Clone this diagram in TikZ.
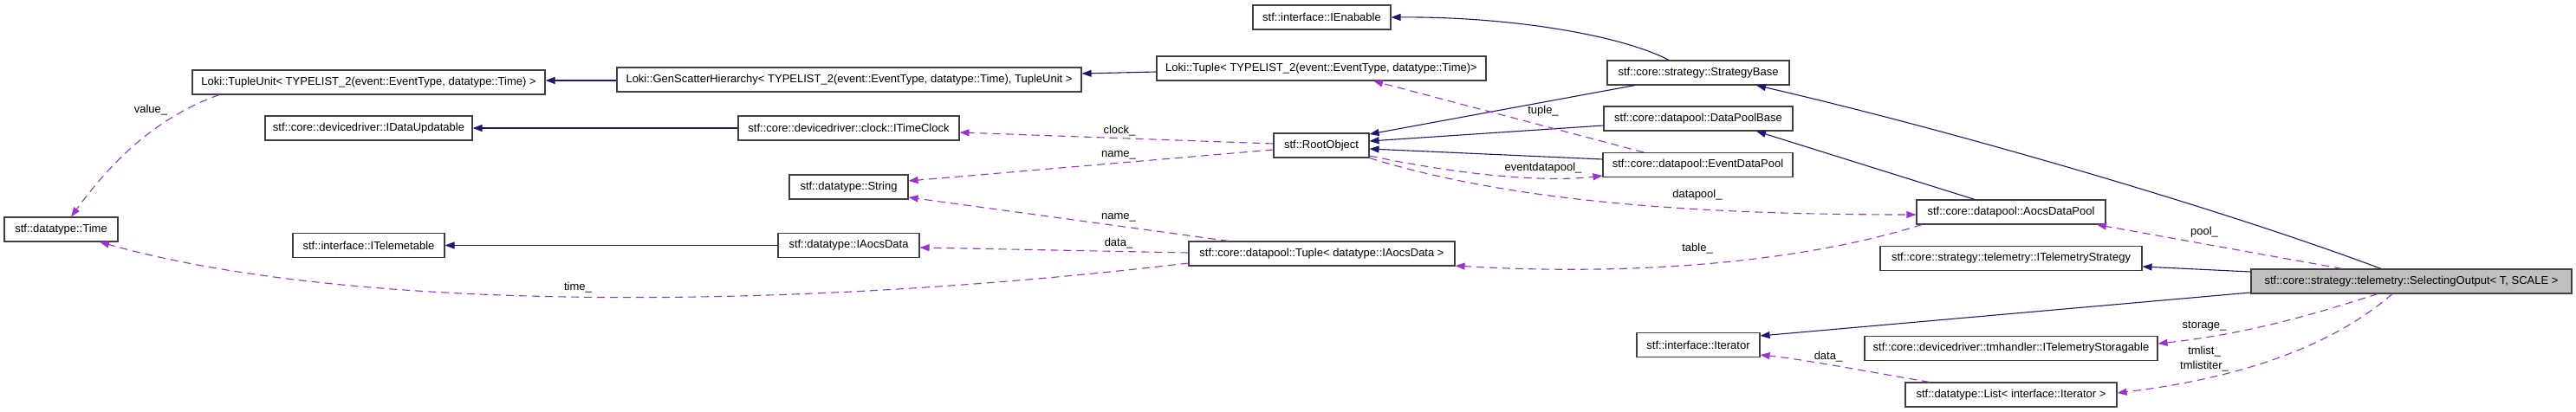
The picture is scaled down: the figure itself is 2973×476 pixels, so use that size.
\documentclass[tikz,border=0pt]{standalone}
\usepackage{fontspec}
\setmainfont{Liberation Sans}
\usetikzlibrary{arrows.meta}
\definecolor{inhcol}{HTML}{191970}
\definecolor{usecol}{HTML}{9A32CD}
\definecolor{boxline}{HTML}{404040}
\definecolor{mainfill}{HTML}{BFBFBF}
\tikzset{
  cls/.style={draw=boxline, line width=1.1pt, fill=white, inner sep=0pt, minimum height=28pt, font=\fontsize{13pt}{15pt}\selectfont},
  mainbox/.style={cls, fill=mainfill},
  inh/.style={draw=inhcol, line width=1.1pt, -{Triangle[length=11pt,width=8pt]}},
  use/.style={draw=usecol, line width=1.1pt, dash pattern=on 9pt off 6pt, -{Triangle[length=11pt,width=8pt]}},
  lbl/.style={inner sep=0pt, font=\fontsize{13pt}{17pt}\selectfont, align=center}
}
\begin{document}
\begin{tikzpicture}[x=1pt,y=-1pt]
\useasboundingbox (0,0) rectangle (2973,476);
% nodes
\node[cls, minimum width=131pt] (time) at (70.5,265) {stf::datatype::Time};
\node[cls, minimum width=407pt] (tu) at (425.5,95) {Loki::TupleUnit< TYPELIST\_2(event::EventType, datatype::Time) >};
\node[cls, minimum width=239pt] (upd) at (425.5,148) {stf::core::devicedriver::IDataUpdatable};
\node[cls, minimum width=175pt] (telem) at (425.5,283.5) {stf::interface::ITelemetable};
\node[cls, minimum width=536pt] (gen) at (980,92) {Loki::GenScatterHierarchy< TYPELIST\_2(event::EventType, datatype::Time), TupleUnit >};
\node[cls, minimum width=255pt] (clock) at (979.5,148) {stf::core::devicedriver::clock::ITimeClock};
\node[cls, minimum width=137pt] (str) at (979.5,216) {stf::datatype::String};
\node[cls, minimum width=163pt] (iad) at (979.5,283.5) {stf::datatype::IAocsData};
\node[cls, minimum width=380pt] (lt) at (1525,79) {Loki::Tuple< TYPELIST\_2(event::EventType, datatype::Time)>};
\node[cls, minimum width=159pt] (ie) at (1525.5,20) {stf::interface::IEnabable};
\node[cls, minimum width=110pt] (root) at (1525,168) {stf::RootObject};
\node[cls, minimum width=307pt] (dpt) at (1525.5,293) {stf::core::datapool::Tuple< datatype::IAocsData >};
\node[cls, minimum width=210pt] (sb) at (1960,84) {stf::core::strategy::StrategyBase};
\node[cls, minimum width=218pt] (dpb) at (1960,137) {stf::core::datapool::DataPoolBase};
\node[cls, minimum width=219pt] (edp) at (1959.5,190.5) {stf::core::datapool::EventDataPool};
\node[cls, minimum width=142pt] (iter) at (1960,398.5) {stf::interface::Iterator};
\node[cls, minimum width=218pt] (adp) at (2321,245) {stf::core::datapool::AocsDataPool};
\node[cls, minimum width=302pt] (its) at (2321,298.5) {stf::core::strategy::telemetry::ITelemetryStrategy};
\node[cls, minimum width=338pt] (ists) at (2321,402.5) {stf::core::devicedriver::tmhandler::ITelemetryStoragable};
\node[cls, minimum width=244pt] (list) at (2321,456) {stf::datatype::List< interface::Iterator >};
\node[mainbox, minimum width=370pt] (so) at (2783,325) {stf::core::strategy::telemetry::SelectingOutput< T, SCALE >};
% inheritance edges
\draw[inh] ([yshift=-1pt]gen.west) -- ([yshift=2pt]tu.east);
\draw[inh] ([yshift=-4pt]lt.west) -- ([yshift=7pt]gen.east);
\draw[inh] (clock.west) -- (upd.east);
\draw[inh] (iad.west) -- (telem.east);
\draw[inh] ([xshift=-34pt]sb.north) .. controls (1870,40) and (1740,19) .. (ie.east);
\draw[inh] ([xshift=-73pt]sb.south) -- ([yshift=13pt]root.east);
\draw[inh] ([yshift=-8pt]dpb.west) -- ([yshift=5pt]root.east);
\draw[inh] ([yshift=6.5pt]edp.west) -- ([yshift=-4pt]root.east);
\draw[inh] ([xshift=-35pt]so.north) .. controls (2560,240) and (2250,150) .. ([xshift=67pt]sb.south);
\draw[inh] ([xshift=-42pt]adp.north) -- ([xshift=67pt]dpb.south);
\draw[inh] ([yshift=11pt]so.west) -- ([yshift=-9.5pt]its.east);
\draw[inh] ([yshift=-13pt]so.west) -- ([yshift=10.5pt]iter.east);
% usage edges
\draw[use] ([xshift=-172.5pt]tu.south) .. controls (173,138) and (122,196) .. ([xshift=11.5pt]time.north);
\draw[use] ([yshift=-11pt]dpt.west) .. controls (900,360) and (400,360) .. ([xshift=44.5pt]time.south);
\draw[use] ([yshift=2pt]root.west) -- ([yshift=-5pt]clock.east);
\draw[use] ([yshift=-5pt]root.west) -- ([yshift=7pt]str.east);
\draw[use] ([xshift=-107.5pt]dpt.north) -- ([yshift=-12pt]str.east);
\draw[use] ([yshift=1pt]dpt.west) -- ([yshift=-2.5pt]iad.east);
\draw[use] ([xshift=-62.5pt]edp.north) -- ([xshift=60pt]lt.south);
\draw[use] ([yshift=-12pt]root.east) .. controls (1700,205) and (1790,210) .. ([yshift=-12.5pt]edp.west);
\draw[use] (root.south east) .. controls (1740,232) and (1950,248) .. ([yshift=-3pt]adp.west);
\draw[use] ([xshift=-103pt]adp.south) .. controls (2090,300) and (1900,320) .. ([yshift=-14pt]dpt.east);
\draw[use] ([xshift=-80pt]so.north) -- ([xshift=99pt]adp.south);
\draw[use] ([xshift=-39pt]so.south) .. controls (2680,360) and (2600,385) .. ([yshift=5.5pt]ists.east);
\draw[use] ([xshift=-22pt]so.south) .. controls (2680,410) and (2560,440) .. ([yshift=2pt]list.east);
\draw[use] ([xshift=-94pt]list.north) .. controls (2160,430) and (2080,415) .. ([yshift=-11.5pt]iter.east);
% labels
\node[lbl] (lvalue) at (174,127) {value\_};
\node[lbl] (ltime) at (667,332) {time\_};
\node[lbl] (lclock) at (1292,151) {clock\_};
\node[lbl] (lname1) at (1291,179) {name\_};
\node[lbl] (lname2) at (1291,251) {name\_};
\node[lbl] (ldata1) at (1291,281) {data\_};
\node[lbl] (ltuple) at (1781,128) {tuple\_};
\node[lbl] (levent) at (1781,194) {eventdatapool\_};
\node[lbl] (ldatapool) at (1959,225) {datapool\_};
\node[lbl] (ltable) at (1959,287) {table\_};
\node[lbl] (lpool) at (2544,268) {pool\_};
\node[lbl] (lstorage) at (2544,377) {storage\_};
\node[lbl] (ltmlist) at (2544,415) {tmlist\_\\tmlistiter\_};
\node[lbl] (ldata2) at (2110,412) {data\_};
\end{tikzpicture}
\end{document}
